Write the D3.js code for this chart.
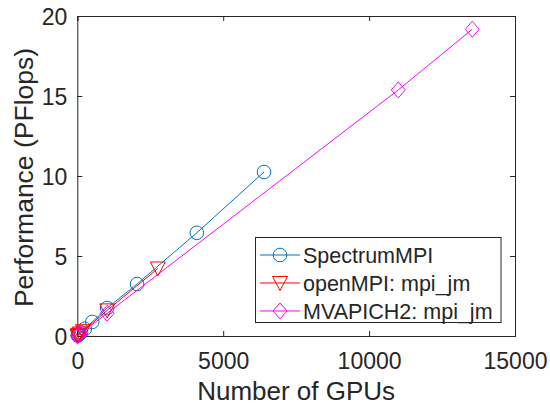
<!DOCTYPE html>
<html><head><meta charset="utf-8">
<script src="https://cdn.jsdelivr.net/npm/d3@7"></script>
<style>
body{margin:0;background:#fff;}
text{font-family:"Liberation Sans",Arial,sans-serif;fill:#262626;}
</style></head>
<body><svg id="c" width="550" height="406"></svg>
<script>
const spectrumX = [16, 32, 64, 128, 256, 512, 1024, 2048, 4096, 6400];
const spectrumY = [0.03, 0.06, 0.11, 0.22, 0.45, 0.88, 1.75, 3.25, 6.45, 10.25];
const openX = [6, 24, 48, 96, 192, 1024, 2760];
const openY = [0.01, 0.04, 0.08, 0.16, 0.3, 1.6, 4.22];
const mvapichX = [6, 24, 96, 1024, 11000, 13536];
const mvapichY = [0.01, 0.04, 0.15, 1.42, 15.38, 19.17];
const xTicks = [0, 5000, 10000, 15000];
const yTicks = [0, 5, 10, 15, 20];
const seriesNames = ["SpectrumMPI", "openMPI: mpi_jm", "MVAPICH2: mpi_jm"];
const seriesColors = ["#0072BD", "#FF0000", "#FF00FF"];

const svg = d3.select("#c");
const L = 77.3, R = 515, T = 16, B = 336;
const x = d3.scaleLinear().domain([0, 15000]).range([L, R]);
const y = d3.scaleLinear().domain([0, 20]).range([B, T]);
const ax = "#262626";

const g = svg.append("g");
const xa = g.append("g").attr("transform", `translate(0,${B})`)
  .call(d3.axisBottom(x).tickValues(xTicks).tickSize(-5).tickPadding(17).tickFormat(d3.format("d")));
g.append("g").attr("transform", `translate(0,${T})`)
  .call(d3.axisTop(x).tickValues(xTicks).tickSize(-5).tickFormat(""));
const ya = g.append("g").attr("transform", `translate(${L},0)`)
  .call(d3.axisLeft(y).tickValues(yTicks).tickSize(-5).tickPadding(10));
g.append("g").attr("transform", `translate(${R},0)`)
  .call(d3.axisRight(y).tickValues(yTicks).tickSize(-5).tickFormat(""));
g.selectAll(".domain").attr("stroke", ax).attr("stroke-width", 1);
g.selectAll(".tick line").attr("stroke", ax);
g.selectAll(".tick text").style("font-family", '"Liberation Sans",Arial,sans-serif').style("font-size", "23px").attr("fill", ax);
xa.selectAll(".tick text").attr("dy", "0.71em");
ya.selectAll(".tick text").attr("dy", "0.35em");

const data = [
  {xs: spectrumX, ys: spectrumY, shape: "circle"},
  {xs: openX, ys: openY, shape: "tri"},
  {xs: mvapichX, ys: mvapichY, shape: "diamond"}
];
function marker(sel, shape, color) {
  if (shape === "circle") {
    sel.append("circle").attr("r", 6.8).attr("fill", "none").attr("stroke", color).attr("stroke-width", 1);
  } else if (shape === "tri") {
    sel.append("path").attr("d", "M-7.5,-6.5L7.5,-6.5L0,7.5Z").attr("fill", "none").attr("stroke", color).attr("stroke-width", 1);
  } else {
    sel.append("path").attr("d", "M0,-8L7,0L0,8L-7,0Z").attr("fill", "none").attr("stroke", color).attr("stroke-width", 1);
  }
}
const line = d3.line().x(d => x(d[0])).y(d => y(d[1]));
data.forEach((s, i) => {
  const pts = s.xs.map((v, j) => [v, s.ys[j]]);
  svg.append("path").attr("d", line(pts)).attr("fill", "none").attr("stroke", seriesColors[i]).attr("stroke-width", 1);
  pts.forEach(p => {
    const m = svg.append("g").attr("transform", `translate(${x(p[0])},${y(p[1])})`);
    marker(m, s.shape, seriesColors[i]);
  });
});

const lg = svg.append("g");
lg.append("rect").attr("x", 255.5).attr("y", 237.5).attr("width", 245.5).attr("height", 85)
  .attr("fill", "#fff").attr("stroke", ax).attr("stroke-width", 1);
const ly = [255, 283, 311];
data.forEach((s, i) => {
  lg.append("line").attr("x1", 260).attr("x2", 300).attr("y1", ly[i]).attr("y2", ly[i])
    .attr("stroke", seriesColors[i]).attr("stroke-width", 1);
  const m = lg.append("g").attr("transform", `translate(280,${ly[i]})`);
  marker(m, s.shape, seriesColors[i]);
  lg.append("text").attr("x", 303).attr("y", ly[i]).attr("dy", "0.36em")
    .style("font-size", "21.5px").text(seriesNames[i]);
});

svg.append("text").attr("x", (L + R) / 2).attr("y", 400).attr("text-anchor", "middle")
  .style("font-size", "26px").text("Number of GPUs");
svg.append("text").attr("transform", `translate(33,177.5) rotate(-90)`).attr("text-anchor", "middle")
  .style("font-size", "26.5px").text("Performance (PFlops)");
</script></body></html>
